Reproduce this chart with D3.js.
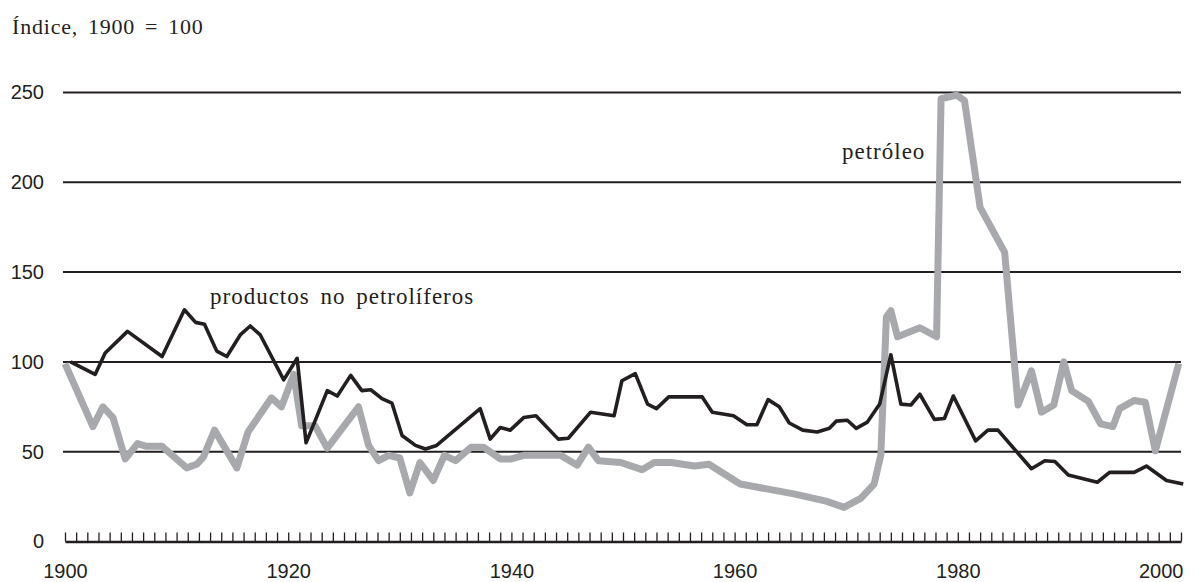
<!DOCTYPE html>
<html>
<head>
<meta charset="utf-8">
<script src="https://cdn.jsdelivr.net/npm/d3@7"></script>
<style>
  body { margin: 0; background: #fff; }
  svg { display: block; }
  .serif { font-family: "Liberation Serif", "Times New Roman", serif; fill: #231f20; }
  .axis text { font-family: "Liberation Sans", Arial, sans-serif; font-size: 20px; fill: #231f20; }
</style>
</head>
<body>
<svg id="chart" width="1201" height="582"></svg>
<script>
// productos no petroliferos (black line)
var prodYears = [1900.5, 1902.7, 1903.6, 1905.6, 1908.7, 1910.7, 1911.7, 1912.5, 1913.6, 1914.5,
	1915.7, 1916.6, 1917.5, 1919.6, 1920.8, 1921.6, 1922.4, 1923.5, 1924.4, 1925.6,
	1926.6, 1927.4, 1928.4, 1929.3, 1930.2, 1931.4, 1932.3, 1933.3, 1937.2, 1938.1,
	1939, 1939.9, 1941.1, 1942.2, 1944.2, 1945.1, 1947.1, 1949.2, 1949.9, 1951.1,
	1952.2, 1953, 1954.1, 1957.1, 1958, 1959.9, 1961.1, 1962, 1963, 1964,
	1964.9, 1966.1, 1967.4, 1968.5, 1969.1, 1970.1, 1970.9, 1971.9, 1973, 1974,
	1974.9, 1975.8, 1976.6, 1977.9, 1978.8, 1979.6, 1981.6, 1982.7, 1983.6, 1986.6,
	1987.8, 1988.7, 1989.9, 1992.5, 1993.6, 1995.8, 1996.9, 1998.7, 2000.2];
var prodValues = [100, 93, 105, 117, 103, 129, 122, 121, 106, 103,
	115, 120, 115, 90, 102, 55, 67, 84, 81, 92.5,
	84, 84.5, 79.5, 77, 59, 53.5, 51.5, 53.5, 74, 57,
	63.5, 62, 69, 70, 57, 57.5, 72, 70, 89.5, 93.5,
	76.5, 74, 80.5, 80.5, 72, 70, 65, 65, 79, 75,
	66, 62, 61, 63, 67, 67.5, 63, 66.5, 76.5, 104,
	76.5, 76, 82, 68, 68.5, 81, 56, 62, 62, 40.5,
	45, 44.5, 37, 33, 38.5, 38.5, 42, 34, 32];

// petroleo (grey line)
var oilYears = [1900, 1902.5, 1903.4, 1904.3, 1905.4, 1906.5, 1907.3, 1908.7, 1910.9, 1911.8,
	1912.4, 1913.4, 1915.4, 1916.4, 1918.5, 1919.4, 1920.5, 1921.2, 1922.4, 1923.5,
	1926.3, 1927.2, 1928.1, 1929, 1930, 1930.9, 1931.8, 1933, 1934, 1935,
	1936.4, 1937.5, 1939, 1940, 1941.1, 1944.4, 1945.9, 1946.9, 1947.8, 1949.8,
	1951.7, 1952.8, 1954.3, 1956.4, 1957.7, 1960.5, 1965.3, 1968.2, 1969.8, 1971.3,
	1972.5, 1973.1, 1973.6, 1974, 1974.6, 1976.6, 1978.1, 1978.5, 1979.9, 1980.6,
	1982, 1984.2, 1985.4, 1986.6, 1987.5, 1988.6, 1989.5, 1990.2, 1991.7, 1992.8,
	1993.9, 1994.5, 1995.8, 1996.8, 1997.7, 1999.8];
var oilValues = [99, 64, 75, 69, 46, 54.5, 53, 53, 41, 43,
	47, 62, 41, 61, 80, 75, 93, 64.5, 64.5, 52,
	75, 53.5, 45, 48, 46.5, 27, 44, 34, 48, 45,
	52.5, 52.5, 46, 46, 48, 48, 42.5, 52.5, 45, 44,
	40, 44, 44, 42, 43, 32, 26.5, 22.5, 19, 24,
	32, 48, 125, 128.5, 114, 119, 114, 246.5, 248.5, 245.5,
	186, 161, 76, 95, 72, 76, 100, 84, 78, 65.5,
	64, 74, 78.5, 77.5, 50.5, 99];

var yTicks = [0, 50, 100, 150, 200, 250],
	gridTicks = [50, 100, 150, 200, 250],
	yearLabels = [1900, 1920, 1940, 1960, 1980, 2000];

var svg = d3.select("#chart"),
	x = d3.scaleLinear().domain([1900, 2000]).range([65, 1181]),
	y = d3.scaleLinear().domain([0, 250]).range([541.5, 92.5]);

// grid
svg.append("g").selectAll("line")
	.data(gridTicks)
	.enter().append("line")
	.attr("x1", x(1900) - 2).attr("x2", x(2000))
	.attr("y1", function(d) { return y(d); })
	.attr("y2", function(d) { return y(d); })
	.attr("stroke", "#231f20")
	.attr("stroke-width", 2);

// year ticks along zero line
var tickAxis = svg.append("g")
	.attr("transform", "translate(0," + y(0) + ")")
	.call(d3.axisTop(x).tickValues(d3.range(1900, 2001)).tickSize(9).tickSizeOuter(0).tickFormat(""));
tickAxis.select(".domain").attr("stroke", "#231f20").attr("stroke-width", 2.5);
tickAxis.selectAll(".tick line").attr("stroke", "#231f20").attr("stroke-width", 1.3);

// year labels
var xLab = svg.append("g")
	.attr("class", "axis")
	.attr("transform", "translate(0," + y(0) + ")")
	.call(d3.axisBottom(x).tickValues(yearLabels).tickSize(0).tickPadding(22).tickFormat(d3.format("d")));
xLab.select(".domain").remove();
xLab.selectAll(".tick text")
	.filter(function(d) { return d === 2000; })
	.attr("text-anchor", "end").attr("x", 2);

// value labels
var yLab = svg.append("g")
	.attr("class", "axis")
	.attr("transform", "translate(44,0)")
	.call(d3.axisLeft(y).tickValues(yTicks).tickSize(0).tickPadding(0));
yLab.select(".domain").remove();

var line = d3.line()
	.x(function(d) { return x(d[0]); })
	.y(function(d) { return y(d[1]); });

svg.append("path")
	.datum(d3.zip(oilYears, oilValues))
	.attr("d", line)
	.attr("fill", "none")
	.attr("stroke", "#a7a9ac")
	.attr("stroke-width", 7)
	.attr("stroke-linejoin", "round");

svg.append("path")
	.datum(d3.zip(prodYears, prodValues))
	.attr("d", line)
	.attr("fill", "none")
	.attr("stroke", "#231f20")
	.attr("stroke-width", 3.6)
	.attr("stroke-linejoin", "round");

// texts
svg.append("text").attr("class", "serif")
	.attr("x", 12).attr("y", 34)
	.style("font-size", "22px").style("letter-spacing", "0.8px").style("word-spacing", "3.6px")
	.text("Índice, 1900 = 100");

svg.append("text").attr("class", "serif")
	.attr("x", 210).attr("y", 304)
	.style("font-size", "23px").style("letter-spacing", "1px").style("word-spacing", "4px")
	.text("productos no petrolíferos");

svg.append("text").attr("class", "serif")
	.attr("x", 842).attr("y", 158.5)
	.style("font-size", "23px").style("letter-spacing", "1px")
	.text("petróleo");
</script>
</body>
</html>
